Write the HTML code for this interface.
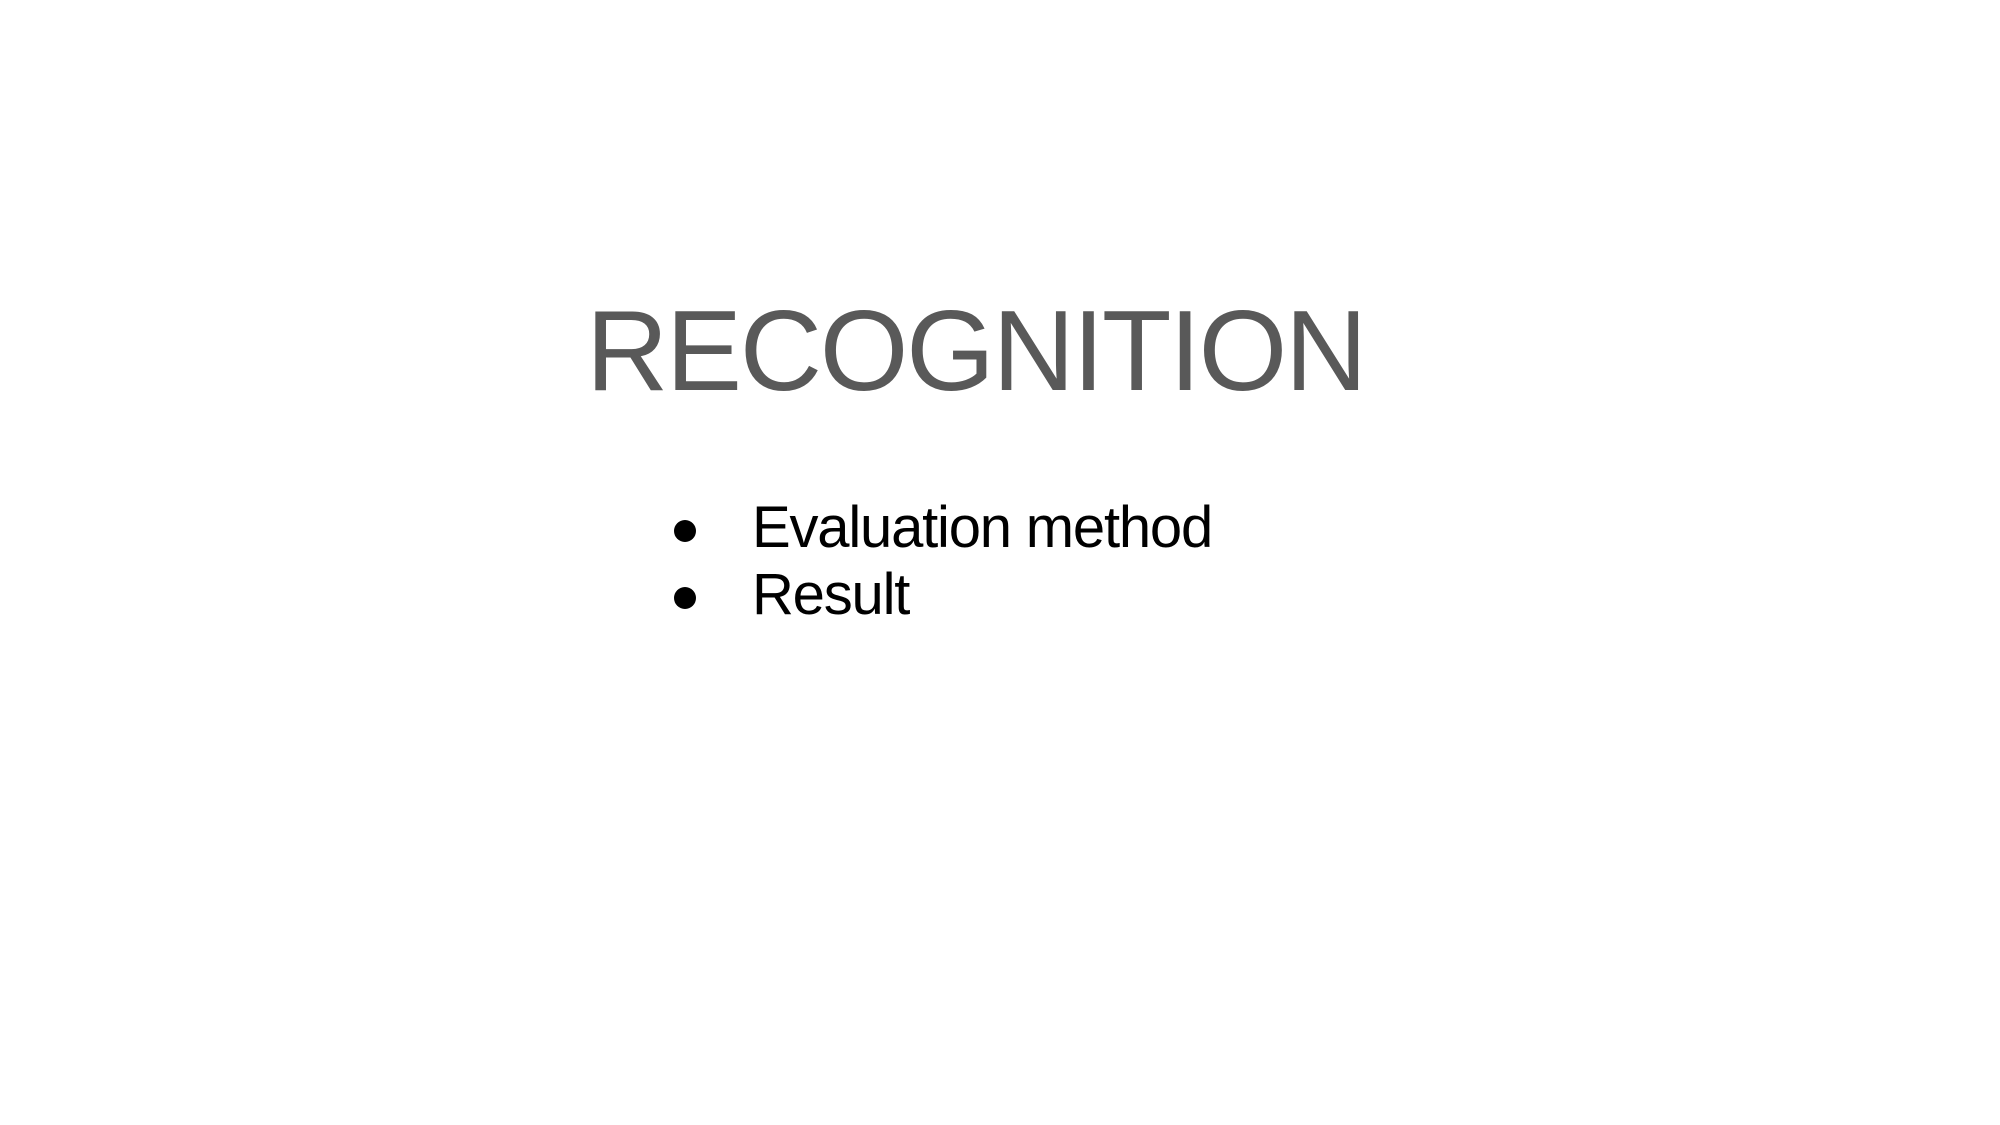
<!DOCTYPE html>
<html><head><meta charset="utf-8"><style>
html,body{margin:0;padding:0;background:#fff;}
body{width:2000px;height:1125px;position:relative;overflow:hidden;font-family:"Liberation Sans",Arial,sans-serif;}
.t{position:absolute;left:586px;top:295px;font-size:114px;line-height:114px;color:#595959;white-space:nowrap;letter-spacing:-2.3px;}
.b{position:absolute;font-size:58px;line-height:58px;color:#000;white-space:nowrap;letter-spacing:-1.2px;}
.d{position:absolute;width:22px;height:22px;border-radius:50%;background:#000;}
</style></head><body>
<div class="t">RECOGNITION</div>
<div class="d" style="left:674px;top:520px"></div>
<div class="b" style="left:752px;top:499px">Evaluation method</div>
<div class="d" style="left:674px;top:587px"></div>
<div class="b" style="left:752px;top:566px">Result</div>
</body></html>
